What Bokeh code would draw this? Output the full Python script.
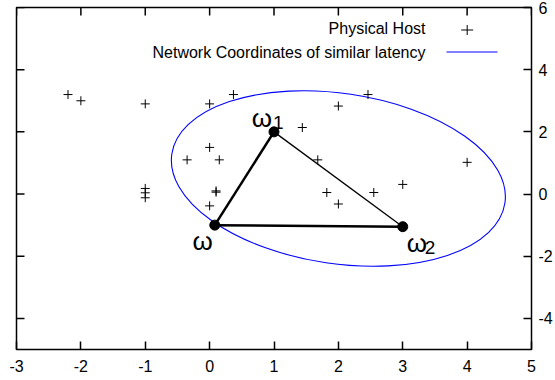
import math
from bokeh.plotting import figure
from bokeh.models import FixedTicker, Label, PolyAnnotation, Range1d
from bokeh.core.properties import value
from bokeh.embed import file_html
from bokeh.resources import INLINE

# axis ticks
x_ticks = [-3, -2, -1, 0, 1, 2, 3, 4, 5]
y_ticks = [-4, -2, 0, 2, 4, 6]

# physical hosts
host_x = [-2.2, -2.0, -1.0, 0.0, 0.37, 2.46, 2.0, 1.44, 0.0, -0.35, 0.15, 1.68,
          4.0, -1.0, -1.0, -1.0, 0.1, 0.1, 1.82, 2.55, 3.0, 0.0, 2.0]
host_y = [3.2, 3.0, 2.9, 2.9, 3.2, 3.2, 2.83, 2.14, 1.5, 1.1, 1.1, 1.1,
          1.02, 0.18, 0.04, -0.12, 0.1, 0.06, 0.05, 0.05, 0.31, -0.38, -0.32]

# network coordinates omega, omega_1, omega_2
node_x = [0.08, 1.0, 3.0]
node_y = [-1.0, 2.0, -1.05]
node_name = ["ω", "ω", "ω"]
node_sub = ["", "1", "2"]

# region of similar latency (ellipse)
region_cx = [2.0]
region_cy = [0.5]
region_w = [5.23]
region_h = [5.48]
region_angle = -0.146

FONT = "Liberation Sans"
X_MIN, X_MAX = -3, 5
Y_MIN, Y_MAX = -5, 6

p = figure(width=555, height=380, x_range=Range1d(X_MIN, X_MAX), y_range=Range1d(Y_MIN, Y_MAX),
           x_axis_location="below", y_axis_location="right",
           output_backend="svg", toolbar_location=None,
           min_border_left=16, min_border_top=7, min_border_bottom=31, min_border_right=0)
p.grid.visible = False
p.outline_line_color = "black"
p.outline_line_width = 1.5
p.background_fill_color = "white"
p.border_fill_color = "white"


def style_axis(ax, ticks):
    ax.ticker = FixedTicker(ticks=ticks)
    ax.major_label_overrides = {t: str(t) for t in ticks}
    ax.major_tick_in = 8
    ax.major_tick_out = 0
    ax.minor_tick_in = 0
    ax.minor_tick_out = 0
    ax.major_tick_line_color = "black"
    ax.major_tick_line_width = 1.5
    ax.axis_line_color = None
    ax.major_label_text_font = FONT
    ax.major_label_text_font_size = "16px"
    ax.major_label_text_color = "black"


style_axis(p.xaxis[0], x_ticks)
style_axis(p.yaxis[0], y_ticks)
p.xaxis[0].major_label_standoff = 10
p.yaxis[0].major_label_standoff = 7

# mirrored tick marks on the left and top edges
tick = dict(length=8, length_units="screen", line_color="black", line_width=1.5)
p.ray(x=[X_MIN] * len(y_ticks), y=y_ticks, angle=0, **tick)
p.ray(x=x_ticks, y=[Y_MAX] * len(x_ticks), angle=-math.pi / 2, **tick)

# ellipse of similar latency
p.ellipse(x=region_cx, y=region_cy, width=region_w, height=region_h, angle=region_angle,
          fill_color=None, line_color="#0000ff", line_width=1.1)

# hosts
p.scatter(host_x, host_y, marker="cross", size=9, line_color="black", line_width=1)

# triangle edges
p.segment(x0=[node_x[0], node_x[0]], y0=[node_y[0], node_y[0]],
          x1=[node_x[1], node_x[2]], y1=[node_y[1], node_y[2]],
          line_color="black", line_width=2.5)
p.segment(x0=[node_x[1]], y0=[node_y[1]], x1=[node_x[2]], y1=[node_y[2]],
          line_color="black", line_width=1.3)
p.scatter(node_x, node_y, size=10, fill_color="black", line_color="black")

# node labels
txt = dict(text_font=value(FONT), text_color="black", text_baseline="alphabetic")
p.text(x=[node_x[0]], y=[node_y[0]], text=[node_name[0]], x_offset=-2, y_offset=16,
       text_align="right", text_font_size="26px", **txt)
p.text(x=[node_x[1]], y=[node_y[1]], text=[node_name[1]], x_offset=-2, y_offset=-14,
       text_align="right", text_font_size="26px", **txt)
p.text(x=[node_x[1]], y=[node_y[1]], text=[node_sub[1]], x_offset=-1, y_offset=-9,
       text_align="left", text_font_size="19px", **txt)
p.text(x=[node_x[2]], y=[node_y[2]], text=[node_name[2]], x_offset=4, y_offset=16,
       text_align="left", text_font_size="26px", **txt)
p.text(x=[node_x[2]], y=[node_y[2]], text=[node_sub[2]], x_offset=22, y_offset=21,
       text_align="left", text_font_size="19px", **txt)

# key (screen units inside the frame)
key_txt = dict(x_units="screen", y_units="screen", text_align="right", text_baseline="middle",
               text_font=FONT, text_font_size="16px", text_color="black")
p.add_layout(Label(x=409, y=321, text="Physical Host", **key_txt))
p.add_layout(Label(x=409, y=297.5, text="Network Coordinates of similar latency", **key_txt))
key_line = dict(xs_units="screen", ys_units="screen", fill_alpha=0, line_alpha=1, line_width=1)
p.add_layout(PolyAnnotation(xs=[444.7, 456.7], ys=[319.5, 319.5], line_color="black", **key_line))
p.add_layout(PolyAnnotation(xs=[450.7, 450.7], ys=[314.5, 324.5], line_color="black", **key_line))
p.add_layout(PolyAnnotation(xs=[430, 481], ys=[297.5, 297.5], line_color="#0000ff", **key_line))

open("out.html", "w").write(file_html(p, INLINE))
